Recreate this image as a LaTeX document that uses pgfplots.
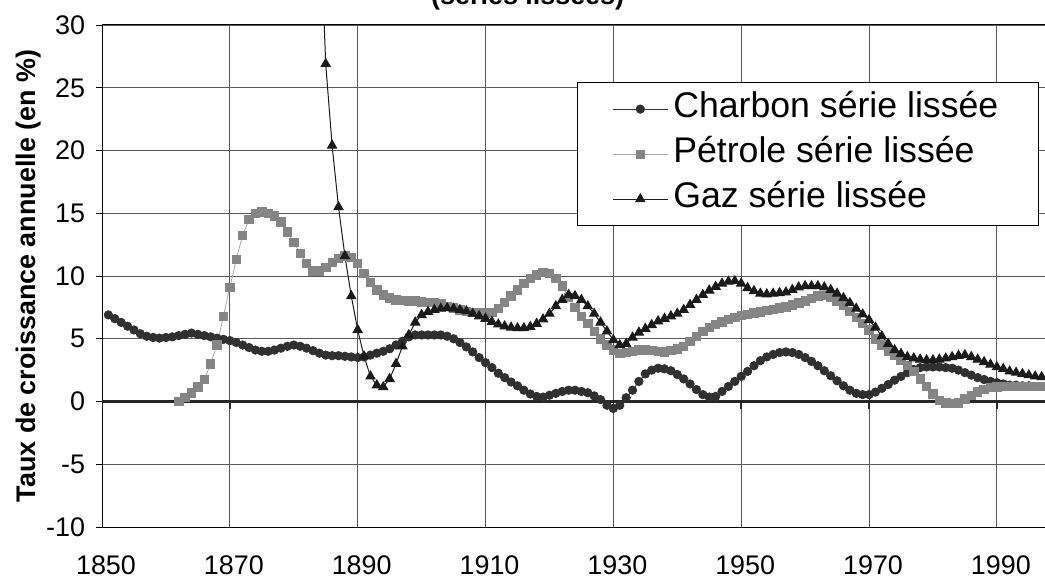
\documentclass[border=0pt]{standalone}
\usepackage{pgfplots}
\usepackage{pgfplotstable}
\pgfplotsset{compat=1.18}
\usepackage{fontspec}
\setmainfont{Liberation Sans}
\definecolor{charbonc}{HTML}{303030}
\definecolor{petrolec}{HTML}{858585}
\definecolor{petroleline}{HTML}{A8A8A8}
\definecolor{gazc}{HTML}{1A1A1A}

\pgfplotstableread{
year val
1851 6.9
1852 6.6
1853 6.3
1854 6.0
1855 5.7
1856 5.4
1857 5.2
1858 5.1
1859 5.05
1860 5.1
1861 5.15
1862 5.25
1863 5.35
1864 5.45
1865 5.35
1866 5.25
1867 5.15
1868 5.05
1869 4.95
1870 4.85
1871 4.7
1872 4.5
1873 4.3
1874 4.1
1875 4.0
1876 4.0
1877 4.1
1878 4.25
1879 4.4
1880 4.5
1881 4.4
1882 4.25
1883 4.05
1884 3.85
1885 3.7
1886 3.65
1887 3.65
1888 3.6
1889 3.55
1890 3.5
1891 3.55
1892 3.7
1893 3.85
1894 4.0
1895 4.2
1896 4.5
1897 4.8
1898 5.15
1899 5.3
1900 5.3
1901 5.3
1902 5.3
1903 5.3
1904 5.2
1905 5.0
1906 4.7
1907 4.35
1908 3.95
1909 3.5
1910 3.1
1911 2.7
1912 2.25
1913 1.9
1914 1.55
1915 1.25
1916 0.9
1917 0.6
1918 0.4
1919 0.35
1920 0.5
1921 0.65
1922 0.8
1923 0.9
1924 0.9
1925 0.8
1926 0.7
1927 0.45
1928 0.15
1929 -0.3
1930 -0.55
1931 -0.3
1932 0.3
1933 0.9
1934 1.6
1935 2.2
1936 2.5
1937 2.65
1938 2.6
1939 2.45
1940 2.15
1941 1.8
1942 1.4
1943 0.95
1944 0.55
1945 0.35
1946 0.4
1947 0.8
1948 1.2
1949 1.6
1950 2.0
1951 2.4
1952 2.85
1953 3.25
1954 3.55
1955 3.75
1956 3.9
1957 3.95
1958 3.9
1959 3.75
1960 3.5
1961 3.2
1962 2.85
1963 2.45
1964 2.05
1965 1.65
1966 1.25
1967 0.9
1968 0.65
1969 0.55
1970 0.55
1971 0.75
1972 1.05
1973 1.35
1974 1.7
1975 2.0
1976 2.3
1977 2.55
1978 2.7
1979 2.75
1980 2.75
1981 2.75
1982 2.7
1983 2.65
1984 2.5
1985 2.3
1986 2.1
1987 1.9
1988 1.75
1989 1.6
1990 1.5
1991 1.4
1992 1.3
1993 1.3
1994 1.25
1995 1.25
1996 1.2
1997 1.2
}\charbon

\pgfplotstableread{
year val
1862 0.0
1863 0.35
1864 0.7
1865 1.15
1866 1.75
1867 3.0
1868 4.5
1869 6.8
1870 9.1
1871 11.3
1872 13.25
1873 14.5
1874 15.0
1875 15.1
1876 15.0
1877 14.8
1878 14.3
1879 13.5
1880 12.7
1881 11.8
1882 11.0
1883 10.4
1884 10.4
1885 10.7
1886 11.1
1887 11.4
1888 11.6
1889 11.5
1890 11.0
1891 10.2
1892 9.5
1893 8.9
1894 8.5
1895 8.25
1896 8.1
1897 8.05
1898 8.0
1899 8.0
1900 7.95
1901 7.9
1902 7.9
1903 7.8
1904 7.6
1905 7.45
1906 7.3
1907 7.2
1908 7.1
1909 7.05
1910 7.05
1911 7.1
1912 7.4
1913 7.9
1914 8.4
1915 8.9
1916 9.4
1917 9.8
1918 10.1
1919 10.3
1920 10.2
1921 9.8
1922 9.2
1923 8.3
1924 7.5
1925 6.8
1926 6.2
1927 5.6
1928 5.0
1929 4.5
1930 4.1
1931 3.85
1932 3.9
1933 4.0
1934 4.1
1935 4.1
1936 4.05
1937 4.0
1938 3.95
1939 4.05
1940 4.2
1941 4.4
1942 4.8
1943 5.2
1944 5.6
1945 5.9
1946 6.15
1947 6.35
1948 6.55
1949 6.7
1950 6.85
1951 6.95
1952 7.05
1953 7.15
1954 7.25
1955 7.35
1956 7.45
1957 7.55
1958 7.7
1959 7.85
1960 8.0
1961 8.2
1962 8.4
1963 8.45
1964 8.35
1965 8.0
1966 7.7
1967 7.2
1968 6.7
1969 6.2
1970 5.7
1971 5.0
1972 4.5
1973 4.0
1974 3.7
1975 3.3
1976 2.9
1977 2.4
1978 1.8
1979 1.2
1980 0.6
1981 0.1
1982 -0.1
1983 -0.15
1984 -0.1
1985 0.2
1986 0.5
1987 0.75
1988 0.95
1989 1.1
1990 1.15
1991 1.2
1992 1.2
1993 1.2
1994 1.2
1995 1.2
1996 1.2
1997 1.2
}\petrole

\pgfplotstableread{
year val
1884 40
1885 26.9
1886 20.4
1887 15.5
1888 11.6
1889 8.4
1890 5.7
1891 3.6
1892 2.0
1893 1.3
1894 1.15
1895 1.8
1896 3.0
1897 4.4
1898 5.3
1899 6.3
1900 6.9
1901 7.15
1902 7.3
1903 7.4
1904 7.45
1905 7.4
1906 7.3
1907 7.2
1908 7.0
1909 6.8
1910 6.6
1911 6.35
1912 6.15
1913 6.0
1914 5.9
1915 5.85
1916 5.85
1917 5.95
1918 6.2
1919 6.55
1920 7.0
1921 7.6
1922 8.1
1923 8.5
1924 8.4
1925 8.1
1926 7.6
1927 7.0
1928 6.3
1929 5.6
1930 4.9
1931 4.5
1932 4.6
1933 5.1
1934 5.5
1935 5.8
1936 6.1
1937 6.4
1938 6.6
1939 6.8
1940 7.0
1941 7.3
1942 7.7
1943 8.1
1944 8.5
1945 8.85
1946 9.15
1947 9.4
1948 9.55
1949 9.6
1950 9.4
1951 9.05
1952 8.8
1953 8.6
1954 8.55
1955 8.6
1956 8.65
1957 8.7
1958 8.9
1959 9.1
1960 9.2
1961 9.2
1962 9.2
1963 9.1
1964 8.9
1965 8.6
1966 8.25
1967 7.85
1968 7.4
1969 6.95
1970 6.5
1971 5.9
1972 5.2
1973 4.6
1974 4.1
1975 3.8
1976 3.55
1977 3.45
1978 3.35
1979 3.3
1980 3.3
1981 3.35
1982 3.45
1983 3.55
1984 3.65
1985 3.7
1986 3.55
1987 3.35
1988 3.15
1989 2.95
1990 2.75
1991 2.6
1992 2.4
1993 2.3
1994 2.2
1995 2.1
1996 2.0
1997 1.95
}\gaz

\begin{document}
\begin{tikzpicture}
\begin{axis}[
  at={(102bp,53bp)}, anchor=south west,
  scale only axis, width=946bp, height=502bp,
  xmin=1850, xmax=1998, ymin=-10, ymax=30,
  xtick={1850,1870,...,1990}, ytick={-10,-5,...,30},
  /pgf/number format/1000 sep={},
  /pgf/number format/assume math mode=true,
  ticklabel style={font=\fontsize{27}{32}\selectfont},
  xticklabel style={yshift=-19bp, xshift=4bp},
  yticklabel style={xshift=-7.5bp},
  xtick style={draw=none},
  ytick pos=left, tick align=outside,
  major tick length=6bp,
  ytick style={black, line width=0.8bp},
  grid=major,
  major grid style={black!65, line width=0.8bp},
  axis line style={black, line width=1bp},
  title={(séries lissées)},
  title style={at={(axis description cs:0.45,1)}, anchor=base, yshift=15bp,
    font=\bfseries\fontsize{27}{32}\selectfont},
  ylabel={Taux de croissance annuelle (en \%)},
  every axis y label/.style={at={(axis description cs:-0.078,0.5)}, rotate=90,
    anchor=center, font=\bfseries\fontsize{27}{32}\selectfont},
  legend style={at={(axis description cs:0.502,0.886)}, anchor=north west,
    draw=black, line width=0.8bp, inner xsep=35bp, inner ysep=5bp,
    row sep=2bp, font=\fontsize{35.8}{42}\selectfont,
    nodes={inner sep=5bp, text height=25bp, text depth=8bp}},
  legend cell align=left,
  legend image code/.code={
    \draw[mark repeat=2,mark phase=2,#1] plot coordinates {(0bp,0bp) (27.5bp,0bp) (55bp,0bp)};
  },
]
\draw[line width=3bp, black!85] (axis cs:1850,0) -- (axis cs:1998,0);
\pgfplotsinvokeforeach{1850,1870,1890,1910,1930,1950,1970,1990}{
  \draw[line width=1.6bp, black!85] (axis cs:#1,0) -- (axis cs:#1,-0.6);
}
\addplot[charbonc, line width=0.8bp, mark=*, mark size=4.2bp,
  mark options={fill=charbonc, draw=charbonc, solid}] table[x=year, y=val] {\charbon};
\addlegendentry{Charbon série lissée}
\addplot[petroleline, line width=0.8bp, mark=square*, mark size=4.2bp,
  mark options={fill=petrolec, draw=petrolec, solid}] table[x=year, y=val] {\petrole};
\addlegendentry{Pétrole série lissée}
\addplot[gazc, line width=1bp, mark=triangle*, mark size=5.2bp,
  mark options={fill=gazc, draw=gazc, solid}] table[x=year, y=val] {\gaz};
\addlegendentry{Gaz série lissée}
\end{axis}
\pgfresetboundingbox
\useasboundingbox (0,0) rectangle (1045bp,580bp);
\end{tikzpicture}
\end{document}
